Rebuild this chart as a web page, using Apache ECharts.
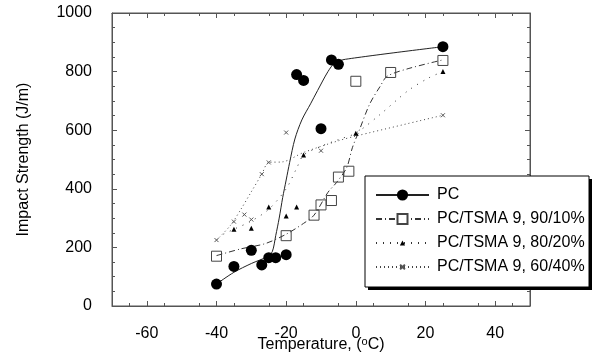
<!DOCTYPE html>
<html>
<head>
<meta charset="utf-8">
<script src="https://cdn.jsdelivr.net/npm/echarts@6/dist/echarts.min.js"></script>
<style>html,body{margin:0;padding:0;background:#fff}#c{width:603px;height:362px}</style>
</head>
<body>
<div id="c"></div>
<script>
// ---- data ----
var xTickLabels = [-60, -40, -20, 0, 20, 40];
var yTickLabels = [0, 200, 400, 600, 800, 1000];

var pcTemp   = [-40, -35, -30, -27, -25, -23, -20, -17, -15, -10, -7, -5, 25];
var pcImpact = [75, 135, 190, 140, 165, 165, 175, 790, 770, 605, 840, 825, 885];

var t9010Temp   = [-40, -20, -12, -10, -7, -5, -2, 0, 10, 25];
var t9010Impact = [170, 240, 310, 345, 360, 440, 460, 767, 797, 838];

var t8020Temp   = [-35, -30, -25, -20, -17, -15, 0, 25];
var t8020Impact = [262, 265, 338, 307, 338, 515, 590, 800];

var t6040Temp   = [-40, -35, -32, -30, -27, -25, -20, -10, 25];
var t6040Impact = [225, 288, 312, 295, 450, 490, 592, 530, 651];

// fitted curves (as drawn in the reference)
var pcFitTemp   = [-40, -35, -30, -25.5, -24, -23, -22, -21, -20, -19, -17.5, -15.5, -13, -11, -8, -6, -3, 25];
var pcFitImpact = [75, 115, 145, 168, 185, 240, 300, 370, 430, 490, 570, 635, 690, 735, 800, 830, 842, 885];

var f9010Temp   = [-40, -33, -26, -20, -15, -12, -8, -5.5, -2.6, -1, 1, 4, 7, 9, 15, 25];
var f9010Impact = [172, 195, 213, 245, 282, 310, 388, 422, 473, 540, 600, 690, 750, 784, 810, 840];

var f8020Temp   = [-38, -35, -30, -25, -20, -17, -15, -10, -5, 0, 7, 15, 21, 25];
var f8020Impact = [245, 262, 290, 330, 400, 470, 515, 545, 568, 590, 654, 735, 779, 800];

var f6040Temp   = [-40, -36, -33, -30, -27, -25, -21, -15, -5, 0, 25];
var f6040Impact = [225, 275, 330, 390, 450, 490, 492, 524, 564, 580, 651];

var names = ['PC', 'PC/TSMA 9, 90/10%', 'PC/TSMA 9, 80/20%', 'PC/TSMA 9, 60/40%'];

function zip(a, b) { return a.map(function (v, i) { return [v, b[i]]; }); }

var FONT = 'Liberation Sans, Arial, sans-serif';
var AX = '#555';
var xMark = 'path://M0,0L10,10M10,0L0,10';

var chart = echarts.init(document.getElementById('c'));

function xAx(pos, labels) {
  return {
    type: 'value', min: -70, max: 50, interval: 20, position: pos,
    axisLine: { show: true, onZero: false, lineStyle: { color: AX, width: 1 } },
    splitLine: { show: false },
    minorSplitLine: { show: false },
    axisTick: { show: true, inside: true, length: 5, customValues: xTickLabels, lineStyle: { color: AX } },
    minorTick: { show: true, splitNumber: 4, length: 3, lineStyle: { color: AX } },
    axisLabel: { show: labels, customValues: xTickLabels, fontSize: 16, color: '#000', fontFamily: FONT, margin: 20 }
  };
}
var xAxes = [xAx('bottom', true), xAx('top', false)];
xAxes[0].name = 'Temperature, ({sup|o}C)';
xAxes[0].nameLocation = 'middle';
xAxes[0].nameGap = 30;
xAxes[0].nameMoveOverlap = false;
xAxes[0].nameTextStyle = { fontSize: 16, color: '#000', fontFamily: FONT,
  rich: { sup: { fontSize: 11, color: '#000', fontFamily: FONT, verticalAlign: 'top', padding: [0, 0, 7, 0] } } };

function yAx(pos, labels) {
  return {
    type: 'value', min: 0, max: 1000, interval: 200, position: pos,
    axisLine: { show: true, onZero: false, lineStyle: { color: AX, width: 1 } },
    splitLine: { show: false },
    axisTick: { show: true, inside: true, length: 5, lineStyle: { color: AX } },
    minorTick: { show: true, splitNumber: 4, length: 3, lineStyle: { color: AX } },
    minorSplitLine: { show: false },
    axisLabel: { show: labels, customValues: yTickLabels, fontSize: 16, color: '#000', fontFamily: FONT, margin: 20,
      formatter: function (v) { return String(v); } }
  };
}
var yAxes = [yAx('left', true), yAx('right', false)];
yAxes[0].name = 'Impact Strength (J/m)';
yAxes[0].nameLocation = 'middle';
yAxes[0].nameGap = 56;
yAxes[0].nameMoveOverlap = false;
yAxes[0].nameTextStyle = { fontSize: 16, color: '#000', fontFamily: FONT, padding: [0, 0, 24, 0] };

var series = [
  // fitted lines (legend entries)
  { name: names[0], type: 'line', data: zip(pcFitTemp, pcFitImpact), smooth: 0.3, symbol: 'circle', showSymbol: false,
    lineStyle: { color: '#222', width: 1 }, itemStyle: { color: '#000' }, z: 2, silent: true },
  { name: names[1], type: 'line', data: zip(f9010Temp, f9010Impact), smooth: 0.3, symbol: 'emptyRect', showSymbol: false,
    lineStyle: { color: '#333', width: 1, type: [6, 3, 1, 3] }, itemStyle: { color: '#444' }, z: 2, silent: true },
  { name: names[2], type: 'line', data: zip(f8020Temp, f8020Impact), smooth: 0.3, symbol: 'triangle', showSymbol: false,
    lineStyle: { color: '#333', width: 1, type: [1, 6] }, itemStyle: { color: '#000' }, z: 2, silent: true },
  { name: names[3], type: 'line', data: zip(f6040Temp, f6040Impact), smooth: 0.3, symbol: xMark, showSymbol: false,
    lineStyle: { color: '#444', width: 1, type: [1, 3] }, itemStyle: { color: '#555', borderColor: '#555', borderWidth: 1 }, z: 2, silent: true },
  // data points
  { type: 'scatter', data: zip(pcTemp, pcImpact), symbol: 'circle', symbolSize: 11,
    itemStyle: { color: '#000', opacity: 1 }, z: 3 },
  { type: 'scatter', data: zip(t9010Temp, t9010Impact), symbol: 'rect', symbolSize: 10,
    itemStyle: { color: 'rgba(255,255,255,0)', borderColor: '#444', borderWidth: 1, opacity: 1 }, z: 3 },
  { type: 'scatter', data: zip(t8020Temp, t8020Impact), symbol: 'triangle', symbolSize: 5,
    itemStyle: { color: '#000', opacity: 1 }, z: 3 },
  { type: 'scatter', data: zip(t6040Temp, t6040Impact), symbol: xMark, symbolSize: 4,
    itemStyle: { color: '#555', borderColor: '#555', borderWidth: 1, opacity: 1 }, z: 3 }
];

var legendCenters = [196, 220, 244, 268];
var legendItemH = [14, 12.5, 6.5, 6];
var legends = names.map(function (n, i) {
  return {
    data: [n], left: 375, top: legendCenters[i] - 9, orient: 'vertical', padding: 0,
    itemWidth: 53, itemHeight: legendItemH[i], z: 20, selectedMode: false,
    textStyle: { fontSize: 16, color: '#000', fontFamily: FONT, padding: [0, 0, 0, 3] }
  };
});

chart.setOption({
  animation: false,
  backgroundColor: '#fff',
  grid: { left: 112, right: 73, top: 13, bottom: 56, containLabel: false, outerBoundsMode: 'none',
    show: true, borderColor: AX, borderWidth: 1, backgroundColor: 'transparent' },
  xAxis: xAxes,
  yAxis: yAxes,
  legend: legends,
  graphic: [
    { type: 'rect', z: 15, shape: { x: 368, y: 179, width: 224, height: 111 }, style: { fill: '#000' } },
    { type: 'rect', z: 16, shape: { x: 365, y: 176, width: 224, height: 111 }, style: { fill: '#fff', stroke: '#000', lineWidth: 1 } }
  ],
  series: series
});
</script>
</body>
</html>
